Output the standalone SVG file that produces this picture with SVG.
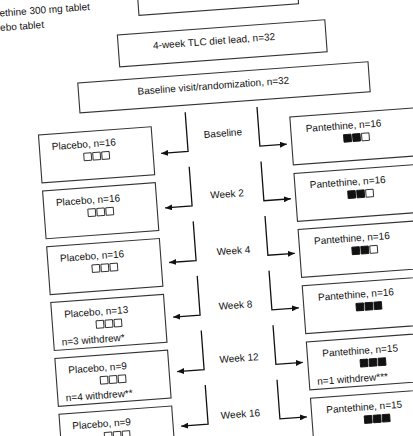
<svg xmlns="http://www.w3.org/2000/svg" width="413" height="436" viewBox="0 0 413 436">
<style>
.box{fill:#fff;stroke:#333;stroke-width:1.1}
.t{font-family:"Liberation Sans",Arial,sans-serif;font-size:10px;fill:#111}
.m{text-anchor:middle}
.sq{fill:#fff;stroke:#222;stroke-width:0.9}
.sf{fill:#111;stroke:#111;stroke-width:0.9}
.ar{fill:none;stroke:#111;stroke-width:1.3}
</style>
<defs>
<marker id="ah" markerUnits="userSpaceOnUse" markerWidth="8" markerHeight="6" refX="7" refY="3" orient="auto">
<path d="M0,0 L7,3 L0,6 z" fill="#111"/>
</marker>
</defs>
<rect width="413" height="436" fill="#fff"/>
<g transform="rotate(-4.2 206 218)">
<g id="legend">
<text class="t" x="15" y="2">ethine 300 mg tablet</text>
<text class="t" x="14.6" y="16.5">ebo tablet</text>
</g>
<g id="top"><rect class="box" x="154" y="-40" width="160" height="51"/></g>
<g id="lead"><rect class="box" x="131" y="29" width="208" height="32"/>
<text class="t m" x="227" y="45.5">4-week TLC diet lead, n=32</text></g>
<g id="rand"><rect class="box" x="88" y="74" width="291" height="30"/>
<text class="t m" x="223" y="90">Baseline visit/randomization, n=32</text></g>

<g id="p1"><rect class="box" x="45" y="123" width="113" height="48"/>
<text class="t" x="57.5" y="139">Placebo, n=16</text>
<rect class="sq" x="88.75" y="144.5" width="7.5" height="7.5"/><rect class="sq" x="97.75" y="144.5" width="7.5" height="7.5"/><rect class="sq" x="106.75" y="144.5" width="7.5" height="7.5"/></g>
<g id="p2"><rect class="box" x="45" y="179" width="113" height="48"/>
<text class="t" x="57.5" y="195">Placebo, n=16</text>
<rect class="sq" x="88.75" y="200.5" width="7.5" height="7.5"/><rect class="sq" x="97.75" y="200.5" width="7.5" height="7.5"/><rect class="sq" x="106.75" y="200.5" width="7.5" height="7.5"/></g>
<g id="p3"><rect class="box" x="45" y="235" width="113" height="48"/>
<text class="t" x="57.5" y="251">Placebo, n=16</text>
<rect class="sq" x="88.75" y="256.5" width="7.5" height="7.5"/><rect class="sq" x="97.75" y="256.5" width="7.5" height="7.5"/><rect class="sq" x="106.75" y="256.5" width="7.5" height="7.5"/></g>
<g id="p4"><rect class="box" x="45" y="291" width="113" height="48"/>
<text class="t" x="57.5" y="307">Placebo, n=13</text>
<rect class="sq" x="88.75" y="312.5" width="7.5" height="7.5"/><rect class="sq" x="97.75" y="312.5" width="7.5" height="7.5"/><rect class="sq" x="106.75" y="312.5" width="7.5" height="7.5"/>
<text class="t" x="53" y="334.5">n=3 withdrew*</text></g>
<g id="p5"><rect class="box" x="45" y="347" width="113" height="48"/>
<text class="t" x="57.5" y="363">Placebo, n=9</text>
<rect class="sq" x="88.75" y="368.5" width="7.5" height="7.5"/><rect class="sq" x="97.75" y="368.5" width="7.5" height="7.5"/><rect class="sq" x="106.75" y="368.5" width="7.5" height="7.5"/>
<text class="t" x="53" y="390.5">n=4 withdrew**</text></g>
<g id="p6"><rect class="box" x="45" y="403" width="113" height="48"/>
<text class="t" x="57.5" y="419">Placebo, n=9</text>
<rect class="sq" x="88.75" y="424.5" width="7.5" height="7.5"/><rect class="sq" x="97.75" y="424.5" width="7.5" height="7.5"/><rect class="sq" x="106.75" y="424.5" width="7.5" height="7.5"/></g>

<g id="q1"><rect class="box" x="297" y="123.5" width="130" height="48"/>
<text class="t" x="312" y="139.5">Pantethine, n=16</text>
<rect class="sf" x="349.25" y="145" width="7.5" height="7.5"/><rect class="sf" x="358.25" y="145" width="7.5" height="7.5"/><rect class="sq" x="367.25" y="145" width="7.5" height="7.5"/></g>
<g id="q2"><rect class="box" x="297" y="180" width="130" height="48"/>
<text class="t" x="312" y="196">Pantethine, n=16</text>
<rect class="sf" x="349.25" y="201.5" width="7.5" height="7.5"/><rect class="sf" x="358.25" y="201.5" width="7.5" height="7.5"/><rect class="sq" x="367.25" y="201.5" width="7.5" height="7.5"/></g>
<g id="q3"><rect class="box" x="297" y="236.3" width="130" height="48"/>
<text class="t" x="312" y="252.3">Pantethine, n=16</text>
<rect class="sf" x="349.25" y="257.8" width="7.5" height="7.5"/><rect class="sf" x="358.25" y="257.8" width="7.5" height="7.5"/><rect class="sq" x="367.25" y="257.8" width="7.5" height="7.5"/></g>
<g id="q4"><rect class="box" x="297" y="292.7" width="130" height="48"/>
<text class="t" x="312" y="308.7">Pantethine, n=16</text>
<rect class="sf" x="349.25" y="314.2" width="7.5" height="7.5"/><rect class="sf" x="358.25" y="314.2" width="7.5" height="7.5"/><rect class="sf" x="367.25" y="314.2" width="7.5" height="7.5"/></g>
<g id="q5"><rect class="box" x="297" y="349" width="130" height="48"/>
<text class="t" x="312" y="365">Pantethine, n=15</text>
<rect class="sf" x="349.25" y="370.5" width="7.5" height="7.5"/><rect class="sf" x="358.25" y="370.5" width="7.5" height="7.5"/><rect class="sf" x="367.25" y="370.5" width="7.5" height="7.5"/>
<text class="t" x="305" y="392.5">n=1 withdrew***</text></g>
<g id="q6"><rect class="box" x="297" y="405.5" width="130" height="48"/>
<text class="t" x="312" y="421.5">Pantethine, n=15</text>
<rect class="sf" x="349.25" y="427" width="7.5" height="7.5"/><rect class="sf" x="358.25" y="427" width="7.5" height="7.5"/><rect class="sf" x="367.25" y="427" width="7.5" height="7.5"/></g>

<g id="labels">
<text class="t m" x="229" y="138">Baseline</text>
<text class="t m" x="228.7" y="199">Week 2</text>
<text class="t m" x="231" y="256">Week 4</text>
<text class="t m" x="229" y="310.5">Week 8</text>
<text class="t m" x="228.7" y="363.5">Week 12</text>
<text class="t m" x="226" y="419.5">Week 16</text>
</g>

<g id="connectors">
<path class="ar" marker-end="url(#ah)" d="M193,111 V150.3 H166"/>
<path class="ar" marker-end="url(#ah)" d="M265,111 V150.3 H292"/>
<path class="ar" marker-end="url(#ah)" d="M193,165.7 V205 H166"/>
<path class="ar" marker-end="url(#ah)" d="M265,165.7 V205 H292"/>
<path class="ar" marker-end="url(#ah)" d="M193,220.4 V259.7 H166"/>
<path class="ar" marker-end="url(#ah)" d="M265,220.4 V259.7 H292"/>
<path class="ar" marker-end="url(#ah)" d="M193,275.1 V314.4 H166"/>
<path class="ar" marker-end="url(#ah)" d="M265,275.1 V314.4 H292"/>
<path class="ar" marker-end="url(#ah)" d="M193,329.8 V369.1 H166"/>
<path class="ar" marker-end="url(#ah)" d="M265,329.8 V369.1 H292"/>
<path class="ar" marker-end="url(#ah)" d="M193,384.5 V423.8 H166"/>
<path class="ar" marker-end="url(#ah)" d="M265,384.5 V423.8 H292"/>
</g>
</g>
</svg>
